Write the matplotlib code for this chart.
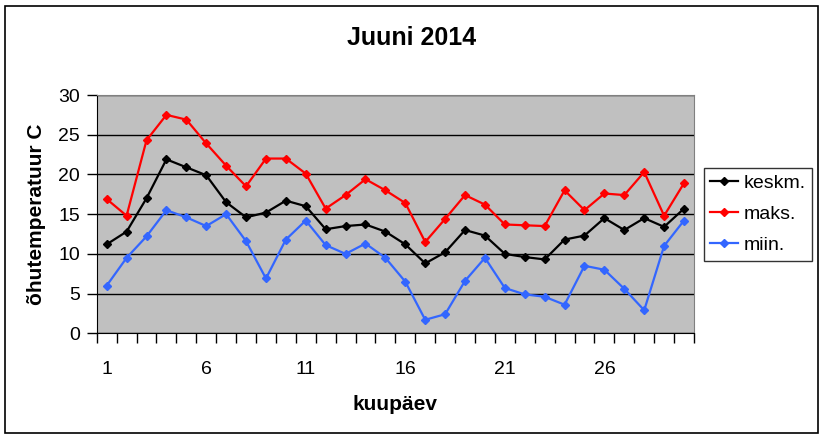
import matplotlib
matplotlib.use('Agg')
import matplotlib.pyplot as plt
from matplotlib.patches import Rectangle

# data (June 2014, daily air temperature)
days = list(range(1, 31))
keskm = [11.2, 12.8, 17.0, 21.9, 20.9, 19.9, 16.5, 14.6, 15.2, 16.7,
         16.0, 13.1, 13.5, 13.7, 12.8, 11.2, 8.8, 10.2, 13.0, 12.3,
         10.0, 9.6, 9.3, 11.8, 12.3, 14.5, 13.0, 14.5, 13.4, 15.7]
maks = [16.9, 14.8, 24.3, 27.5, 26.9, 23.9, 21.1, 18.5, 22.0, 22.0,
        20.1, 15.7, 17.4, 19.4, 18.0, 16.4, 11.5, 14.4, 17.4, 16.2,
        13.7, 13.6, 13.5, 18.0, 15.5, 17.6, 17.4, 20.3, 14.8, 18.9]
miin = [6.0, 9.5, 12.2, 15.5, 14.6, 13.5, 15.0, 11.6, 6.9, 11.8,
        14.2, 11.1, 10.0, 11.3, 9.5, 6.5, 1.7, 2.4, 6.6, 9.5,
        5.7, 4.9, 4.6, 3.6, 8.5, 8.0, 5.6, 2.9, 11.0, 14.2]
series_names = ['keskm.', 'maks.', 'miin.']
series_colors = ['#000000', '#FF0000', '#3366FF']
xtick_labels = ['1', '6', '11', '16', '21', '26']

plt.rcParams['font.family'] = ['Liberation Sans', 'DejaVu Sans']

fig = plt.figure(figsize=(8.24, 4.37), dpi=100)
ax = fig.add_axes([0.1174, 0.2373, 0.8422 - 0.1174, 0.7826 - 0.2373])
ax.set_facecolor('#C0C0C0')

for vals, name, col in zip([keskm, maks, miin], series_names, series_colors):
    ax.plot(days, vals, color=col, lw=1.6, marker='D', markersize=4.5,
            label=name)

ax.set_xlim(0.5, 30.5)
ax.set_ylim(0, 30)
ax.set_yticks(range(0, 31, 5))
ax.yaxis.grid(True, color='black', lw=1)
ax.set_axisbelow(True)

# category axis: tick marks at boundaries, labels at centres
ax.set_xticks([d + 0.5 for d in range(0, 31)])
ax.set_xticklabels([])
ax.set_xticks([int(t) for t in xtick_labels], minor=True)
ax.set_xticklabels(xtick_labels, minor=True)
ax.tick_params(axis='x', which='major', direction='out', length=7, width=1)
ax.tick_params(axis='x', which='minor', length=0, pad=20, labelsize=14)
ax.tick_params(axis='y', direction='out', length=7, width=1, labelsize=14,
               pad=5)

for side in ['top', 'right']:
    ax.spines[side].set_color('#808080')
for side in ['left', 'bottom']:
    ax.spines[side].set_color('black')

ax.set_xlabel('kuupäev', fontsize=15, fontweight='bold', labelpad=12)
ax.set_ylabel('õhutemperatuur C', fontsize=15, fontweight='bold',
              labelpad=9)
fig.text(0.4994, 0.913, 'Juuni 2014', fontsize=18, fontweight='bold',
         ha='center', va='center')

leg = ax.legend(loc='center left', bbox_to_anchor=(1.016, 0.5),
                fontsize=14, frameon=True, fancybox=False,
                edgecolor='black', handlelength=1.4, borderpad=0.35,
                labelspacing=0.68, handletextpad=0.3, borderaxespad=0)
leg.get_frame().set_linewidth(1)

# chart area border
fig.patches.append(Rectangle((5 / 824, 1 - 432.5 / 437), 813 / 824,
                             427 / 437, transform=fig.transFigure,
                             fill=False, edgecolor='black', lw=1.2))

fig.savefig('out.png', dpi=100)
